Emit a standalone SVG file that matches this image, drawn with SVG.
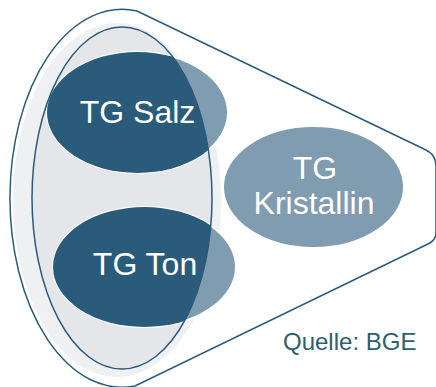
<svg xmlns="http://www.w3.org/2000/svg" width="436" height="387" viewBox="0 0 436 387">
  <style>
    .line { fill: none; stroke: #2b5a7b; stroke-width: 1.5; }
    .lbl { font-family: "Liberation Sans", Arial, sans-serif; font-size: 32px; fill: #ffffff; text-anchor: middle; }
    .light { fill: #7f9cb0; stroke: #ffffff; stroke-width: 2; }
    .dark { fill: #2b5b7b; }
  </style>
  <defs>
    <clipPath id="innerClip">
      <ellipse cx="122" cy="198" rx="90" ry="171"/>
    </clipPath>
  </defs>
  <rect width="436" height="387" fill="#ffffff"/>
  <g id="frame">
    <ellipse cx="117" cy="200" rx="104" ry="177" fill="#eef0f2"/>
    <ellipse cx="122" cy="198" rx="90" ry="171" fill="#e4e6ea"/>
    <path class="line" d="M 137,11 L 426,150 Q 436,155 436,166 L 436,233 Q 436,240 428,244 L 135,386 A 112 189 0 1 1 137,11 Z"/>
  </g>
  <g id="kristallin">
    <ellipse class="light" cx="313.5" cy="187" rx="90.5" ry="61" stroke-width="1"/>
    <text class="lbl" x="315" y="179">TG</text>
    <text class="lbl" x="314" y="214">Kristallin</text>
  </g>
  <g id="salz">
    <ellipse class="light" cx="137.5" cy="112.5" rx="90.5" ry="60.5"/>
    <ellipse class="dark" cx="137.5" cy="112.5" rx="90.5" ry="60.5" clip-path="url(#innerClip)"/>
    <text class="lbl" x="137.5" y="123">TG Salz</text>
  </g>
  <g id="ton">
    <ellipse class="light" cx="144.5" cy="267" rx="91.5" ry="60"/>
    <ellipse class="dark" cx="144.5" cy="267" rx="91.5" ry="60" clip-path="url(#innerClip)"/>
    <text class="lbl" x="145" y="275">TG Ton</text>
  </g>
  <g id="connectors">
    <ellipse class="line" cx="122" cy="198" rx="90" ry="171"/>
  </g>
  <g id="source">
    <text x="283" y="350" font-family="Liberation Sans, Arial, sans-serif" font-size="24" fill="#2e5f6c">Quelle: BGE</text>
  </g>
</svg>
